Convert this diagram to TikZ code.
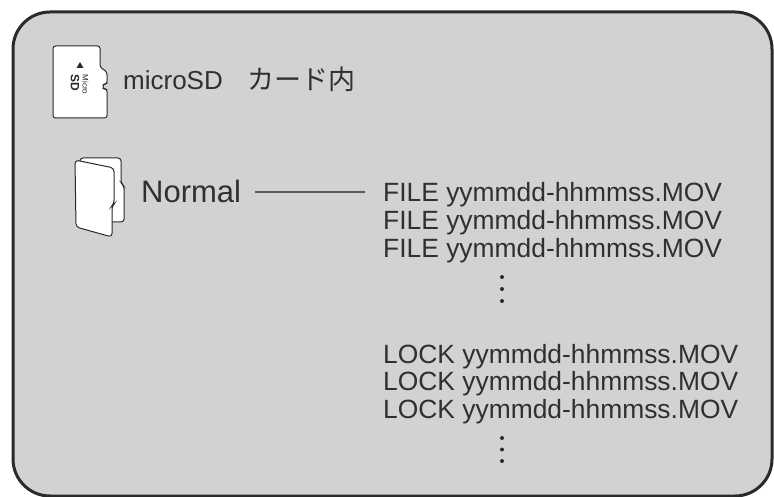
\documentclass[tikz,border=0pt]{standalone}
\usepackage{fontspec}
\setmainfont{Liberation Sans}
\newfontfamily\jpfont{Noto Sans CJK JP}
\definecolor{panelgray}{HTML}{D1D2D4}
\definecolor{inkgray}{HTML}{2A2A2A}
\definecolor{textgray}{HTML}{303030}
\definecolor{linkgray}{HTML}{5A5A5A}
\tikzset{
  iconline/.style={draw=inkgray, fill=white, line width=1pt},
  filename/.style={anchor=base west, inner sep=0pt, text=textgray, font=\fontsize{26.4}{26.4}\selectfont},
  linkline/.style={draw=linkgray, line width=1.3pt},
}
\begin{document}
\begin{tikzpicture}[x=1pt,y=-1pt]
\useasboundingbox (0,0) rectangle (774,497);
\def\lx{383}
\def\ly{202}
\def\lly{363}
\def\dy{27.8}
\def\dotx{502}

% panel
\draw [line width=3pt, draw=inkgray, fill=panelgray, rounded corners=37pt] (13,12) rectangle (772,496);

% microSD card
\draw [iconline, rounded corners=2.5pt] (53,46) -- (100,46) -- (100,67) -- (107,72) -- (107,84) -- (103,84) -- (103,89) -- (107,89) -- (107,118) -- (53,118) -- cycle;
\fill [inkgray] (76.5,68) -- (83.5,68) -- (80,62) -- cycle;
\node[inner sep=0pt, rotate=-90, text=inkgray, font=\bfseries\fontsize{12}{12}\selectfont] (sd) at (75,82.5) {SD};
\node[inner sep=0pt, rotate=-90, text=inkgray, font=\fontsize{8}{8}\selectfont] (micro) at (85.5,84.5) {Micro};
\node[anchor=base west, inner sep=0pt, text=textgray, font=\fontsize{26}{26}\selectfont] (card) at (123,90) {microSD\hspace{0.95em}{\jpfont\fontsize{27}{27}\selectfont カード内}};

% folder
\draw [iconline, rounded corners=3pt] (80,158) -- (121,158) -- (121,183) -- (124,186) -- (124,222) -- (100,222) -- (80,200) -- cycle;
\draw [iconline, rounded corners=3.5pt] (75,160) -- (114,168) -- (114,204) -- (112,206) -- (112,237) -- (76,227) -- cycle;
\node[anchor=base west, inner sep=0pt, text=textgray, font=\fontsize{31}{31}\selectfont] (normal) at (141,203) {Normal};

% file names
\node[filename] (file1) at (\lx, \ly) {FILE yymmdd-hhmmss.MOV};
\node[filename] (file2) at (\lx, \ly + \dy) {FILE yymmdd-hhmmss.MOV};
\node[filename] (file3) at (\lx, \ly + 2*\dy) {FILE yymmdd-hhmmss.MOV};
\node[filename] (lock1) at (\lx, \lly) {LOCK yymmdd-hhmmss.MOV};
\node[filename] (lock2) at (\lx, \lly + \dy) {LOCK yymmdd-hhmmss.MOV};
\node[filename] (lock3) at (\lx, \lly + 2*\dy) {LOCK yymmdd-hhmmss.MOV};

% dots
\fill [inkgray] (\dotx,277) circle (2pt) (\dotx,289) circle (2pt) (\dotx,301) circle (2pt);
\fill [inkgray] (\dotx,438) circle (2pt) (\dotx,449.5) circle (2pt) (\dotx,461) circle (2pt);

% edges
\draw [linkline] ([xshift=14pt]normal.east) -- ([xshift=-18pt]normal.east -| file1.west); % normal to files
\end{tikzpicture}
\end{document}
